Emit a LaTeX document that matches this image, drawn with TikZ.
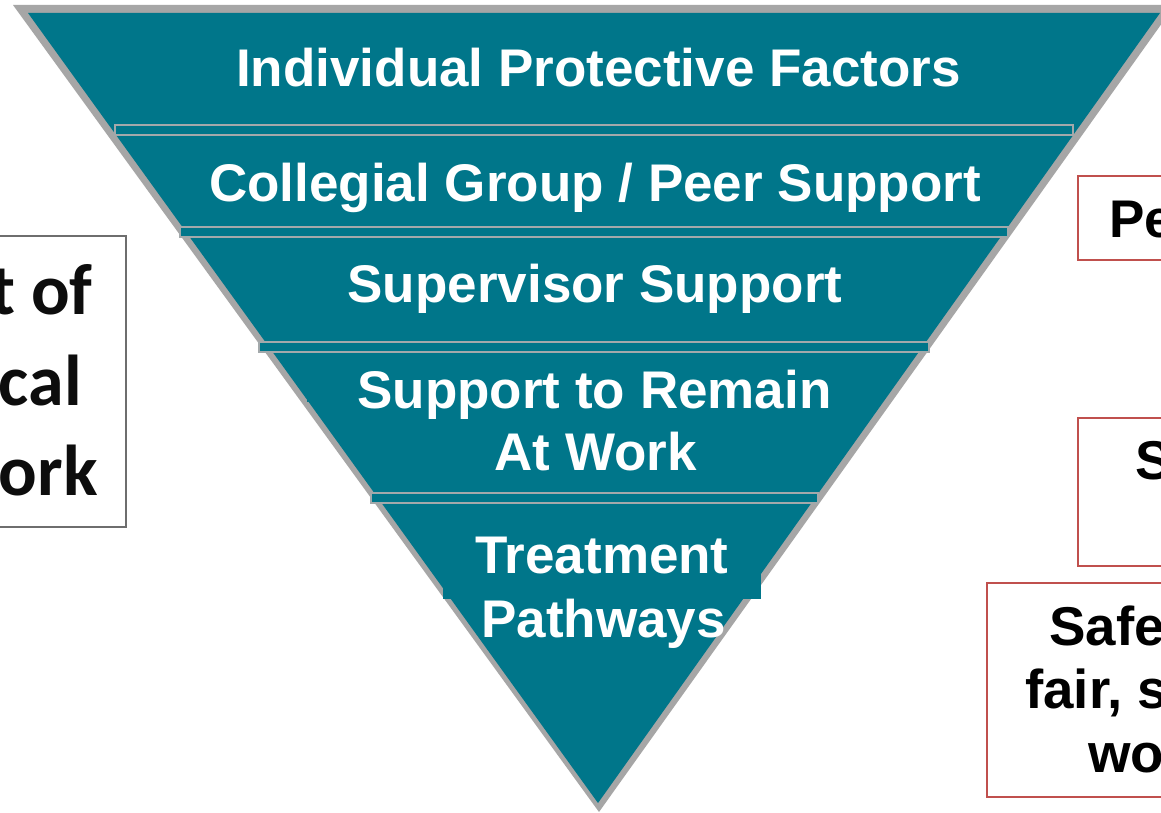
\documentclass[tikz,border=0pt]{standalone}
\usepackage{fontspec}
\setmainfont{Liberation Sans}
\newfontfamily\carlitofont{Carlito}
\definecolor{pyrteal}{HTML}{00768A}
\definecolor{pyrshade}{HTML}{A6A6A6}
\definecolor{stripgray}{HTML}{A3A9AB}
\definecolor{frameRed}{HTML}{C0504D}
\definecolor{frameGray}{HTML}{6E6E6E}
\begin{document}
\begin{tikzpicture}[x=0.75pt,y=-0.75pt,
  wlabel/.style={text=white,font=\bfseries\fontsize{39.75}{47}\selectfont,inner sep=0pt,anchor=base},
  blabel/.style={text=black,font=\bfseries\fontsize{41}{48}\selectfont,inner sep=0pt,anchor=base west},
  llabel/.style={text=black!95,font=\carlitofont\bfseries\fontsize{54}{64}\selectfont,inner sep=0pt,anchor=base east},
  strip/.style={fill=pyrteal,draw=stripgray,line width=0.9pt},
  textbox/.style={fill=pyrteal},
  redframe/.style={draw=frameRed,line width=1.5pt},
  grayframe/.style={draw=frameGray,line width=1.5pt}]
\useasboundingbox (0,0) rectangle (1161,813);
\clip (0,0) rectangle (1161,813);
\fill[white] (0,0) rectangle (1161,813);

% side boxes
\draw[grayframe] (-10,236) rectangle (126,527);
\node[llabel] (l1) at (93,315) {t of};
\node[llabel] (l2) at (82,405) {cal};
\node[llabel] (l3) at (98,495) {ork};

\draw[redframe] (1078,176) rectangle (1175,260);
\node[blabel,font=\bfseries\fontsize{39.75}{47}\selectfont] (r1) at (1109,238) {Pe};
\draw[redframe] (1078,418) rectangle (1175,566);
\node[blabel] (r2) at (1135,479) {S};
\draw[redframe] (987,583) rectangle (1175,797);
\node[blabel] (r3) at (1049,645) {Safe};
\node[blabel] (r4) at (1025,708) {fair, s};
\node[blabel] (r5) at (1088,772) {wo};

% inverted pyramid with grey rim
\fill[pyrshade] (13,5) -- (1175,5) -- (599,812) -- cycle;
\fill[pyrteal] (28,13) -- (1160,13) -- (598,803) -- cycle;

% text panels of the lower levels
\fill[textbox] (307,352) rectangle (882,402);
\fill[textbox] (443,503) rectangle (761,599);

% level separators
\draw[strip] (115,125) rectangle (1073,135);
\draw[strip] (180,227) rectangle (1008,237);
\draw[strip] (259,342) rectangle (929,352);
\draw[strip] (371,493) rectangle (818,503);

% level labels
\node[wlabel] (t1) at (598.5,87) {Individual Protective Factors};
\node[wlabel] (t2) at (595,202) {Collegial Group / Peer Support};
\node[wlabel] (t3) at (595,302) {Supervisor Support};
\node[wlabel] (t4a) at (594.5,408) {Support to Remain};
\node[wlabel] (t4b) at (595.5,470) {At Work};
\node[wlabel] (t5a) at (602,573) {Treatment};
\node[wlabel] (t5b) at (603.5,637) {Pathways};
\end{tikzpicture}
\end{document}
